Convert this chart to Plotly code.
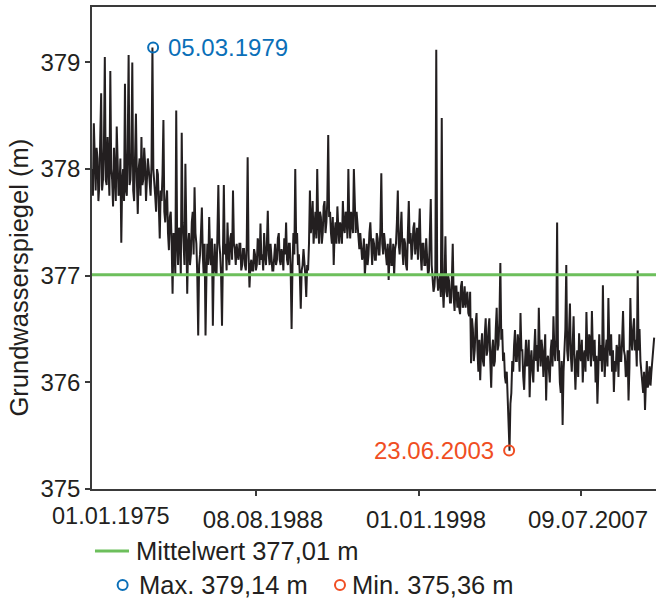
import numpy as np
import plotly.graph_objects as go
from datetime import date

# ---------------- data ----------------
start_year = 1975.0
samples_per_year = 16
level_m = [
    378.0, 377.75, 378.43, 377.9, 377.8, 378.2, 378.1, 377.7, 377.85, 378.3, 378.71, 377.8, 377.9, 378.2, 379.05, 377.9,      # 1975
    377.85, 378.3, 378.1, 377.75, 378.92, 378.0, 377.9, 377.65, 378.2, 378.0, 377.7, 378.4, 378.05, 377.75, 377.8, 378.1,     # 1976
    377.31, 377.9, 378.0, 377.7, 378.8, 377.8, 377.75, 378.2, 379.07, 377.85, 377.9, 378.15, 379.0, 377.8, 377.7, 378.1,      # 1977
    378.52, 377.9, 377.58, 378.0, 378.1, 377.75, 378.3, 377.85, 377.9, 378.2, 378.05, 377.7, 377.85, 378.1, 378.0, 377.8,     # 1978
    377.75, 378.05, 379.14, 378.0, 377.9, 377.75, 377.6, 378.0, 377.95, 377.7, 377.35, 377.8, 377.7, 377.95, 378.46, 377.6,   # 1979
    377.5, 377.7, 377.8, 377.4, 377.24, 377.55, 377.6, 377.3, 376.83, 377.4, 377.3, 377.0, 378.55, 377.3, 377.1, 377.45,      # 1980
    377.4, 377.0, 378.34, 377.5, 377.3, 377.1, 378.05, 377.4, 376.83, 377.3, 377.4, 377.1, 377.2, 377.5, 377.6, 377.2,        # 1981
    377.83, 377.4, 377.3, 377.0, 376.44, 377.1, 377.2, 377.4, 377.64, 377.2, 377.0, 377.3, 376.44, 377.0, 377.3, 377.1,       # 1982
    377.55, 377.2, 377.1, 377.35, 376.53, 377.1, 377.3, 377.05, 377.0, 377.4, 377.85, 377.3, 377.2, 377.0, 376.53, 377.2,     # 1983
    377.85, 377.2, 377.3, 377.05, 377.5, 377.2, 377.1, 377.35, 377.4, 377.15, 377.8, 377.3, 377.25, 377.1, 377.3, 377.2,      # 1984
    377.15, 377.3, 377.3, 377.05, 377.1, 377.25, 377.25, 377.1, 377.05, 377.3, 378.11, 377.2, 376.89, 377.1, 377.15, 377.05,  # 1985
    377.05, 377.25, 377.2, 377.05, 377.1, 377.35, 377.3, 377.1, 377.49, 377.15, 377.2, 377.05, 377.4, 377.2, 377.1, 377.3,    # 1986
    377.61, 377.2, 377.1, 377.3, 377.2, 377.05, 377.05, 377.2, 377.3, 377.1, 377.15, 377.35, 377.4, 377.15, 377.1, 377.25,    # 1987
    377.2, 377.05, 377.35, 377.2, 377.5, 377.15, 377.1, 377.3, 377.3, 377.05, 376.5, 377.1, 377.4, 377.2, 378.0, 377.3,       # 1988
    377.4, 377.1, 377.2, 377.0, 376.69, 377.05, 377.1, 377.25, 377.15, 377.0, 376.8, 377.1, 377.05, 377.3, 377.8, 377.4,      # 1989
    377.5, 377.7, 377.3, 377.5, 377.6, 377.35, 378.0, 377.5, 377.3, 377.6, 377.55, 377.3, 377.4, 377.65, 377.7, 377.4,        # 1990
    377.5, 377.7, 378.32, 377.55, 377.6, 377.4, 377.3, 377.55, 377.1, 377.4, 377.5, 377.3, 377.65, 377.45, 377.3, 377.5,      # 1991
    377.45, 377.3, 377.7, 377.45, 377.4, 377.6, 377.55, 377.35, 378.0, 377.5, 377.35, 377.6, 377.5, 377.4, 378.0, 377.5,     # 1992
    377.4, 377.6, 377.45, 377.3, 377.25, 377.4, 377.3, 377.15, 377.2, 377.35, 377.0, 377.2, 377.3, 377.1, 377.2, 377.4,       # 1993
    377.5, 377.3, 377.1, 377.35, 377.3, 377.15, 377.15, 377.4, 377.35, 377.2, 377.2, 377.45, 377.96, 377.3, 377.2, 377.4,     # 1994
    377.3, 377.15, 377.1, 377.3, 376.96, 377.2, 377.35, 377.1, 377.1, 377.3, 377.0, 377.25, 377.3, 377.5, 377.8, 377.3,       # 1995
    377.2, 377.4, 377.6, 377.25, 377.1, 377.35, 377.3, 377.1, 377.05, 377.4, 377.7, 377.3, 377.4, 377.15, 377.25, 377.45,     # 1996
    377.5, 377.2, 377.3, 377.45, 377.15, 377.35, 377.63, 377.2, 377.05, 377.3, 377.3, 377.1, 377.1, 377.35, 377.2, 377.0,     # 1997
    377.05, 377.3, 377.72, 377.1, 377.0, 376.85, 376.9, 377.05, 379.12, 377.0, 376.86, 376.95, 377.0, 376.8, 378.48, 376.9,   # 1998
    376.7, 376.95, 377.37, 376.85, 376.8, 377.0, 376.95, 376.75, 376.75, 376.95, 377.3, 376.8, 376.67, 376.9, 376.9, 376.7,   # 1999
    376.85, 376.7, 376.64, 376.9, 376.95, 376.7, 376.75, 376.9, 376.7, 376.8, 376.85, 376.65, 376.62, 376.85, 376.18, 376.6,  # 2000
    376.5, 376.2, 376.3, 376.55, 376.65, 376.3, 376.1, 376.4, 376.02, 376.3, 376.46, 376.2, 376.15, 376.45, 376.6, 376.25,    # 2001
    376.3, 376.5, 376.6, 376.2, 375.95, 376.3, 376.4, 376.15, 376.2, 376.5, 376.7, 376.3, 376.35, 376.6, 377.12, 376.4,       # 2002
    376.5, 376.2, 376.28, 376.05, 375.99, 376.1, 375.86, 375.7, 375.36, 375.8, 375.9, 376.2, 376.1, 376.35, 376.49, 376.2,    # 2003
    376.2, 376.45, 376.35, 376.1, 376.65, 376.3, 376.3, 376.05, 375.93, 376.2, 376.4, 376.15, 376.2, 376.4, 375.86, 376.2,    # 2004
    376.3, 376.1, 376.0, 376.3, 376.5, 376.2, 376.35, 376.1, 376.7, 376.3, 376.15, 376.4, 376.3, 376.05, 376.2, 376.45,       # 2005
    375.83, 376.2, 376.25, 376.05, 376.0, 376.3, 376.4, 376.15, 376.62, 376.3, 376.2, 376.4, 377.5, 376.2, 376.3, 376.0,      # 2006
    375.9, 376.2, 375.6, 376.1, 376.3, 376.5, 377.1, 376.3, 376.2, 376.45, 376.74, 376.25, 376.1, 376.35, 376.62, 376.2,      # 2007
    375.93, 376.2, 376.3, 376.05, 376.46, 376.25, 376.2, 376.4, 376.0, 376.25, 376.3, 376.1, 376.66, 376.3, 376.2, 376.45,    # 2008
    376.4, 376.15, 376.67, 376.3, 376.2, 376.4, 376.0, 376.25, 375.8, 376.1, 376.45, 376.2, 376.35, 376.1, 376.91, 376.3,     # 2009
    376.05, 376.3, 376.4, 376.15, 376.79, 376.35, 376.25, 376.45, 376.1, 376.3, 375.91, 376.2, 376.1, 376.35, 376.3, 376.05,  # 2010
    376.45, 376.2, 376.2, 376.4, 376.67, 376.3, 376.25, 376.05, 376.1, 376.3, 375.83, 376.15, 376.79, 376.4, 376.3, 376.5,    # 2011
    376.6, 376.3, 376.4, 376.15, 377.05, 376.3, 376.5, 376.2, 376.1, 375.95, 375.9, 376.1, 375.74, 376.0, 376.2, 375.95,      # 2012
    376.0, 376.15, 375.97, 376.1, 376.2, 376.35, 376.42,                                                                      # 2013
]

mean_level = 377.01
max_date, max_level = "05.03.1979", 379.14
min_date, min_level = "23.06.2003", 375.36

x_tick_labels = ["01.01.1975", "08.08.1988", "01.01.1998", "09.07.2007"]
x_tick_years = [1986.19, 1997.32, 2008.38]   # where the tick marks sit on the axis
y_ticks = [375, 376, 377, 378, 379]

x_range = [1975.0, 2013.5]
y_range = [375.0, 379.52]

# ---------------- helpers ----------------
def dec_year(s):
    d, m, y = map(int, s.split("."))
    return y + (date(y, m, d) - date(y, 1, 1)).days / 365.25

def de(v):
    return f"{v:.2f}".replace(".", ",")

t = start_year + np.arange(len(level_m)) / samples_per_year

TXT = "#231f20"
BLUE = "#0a6fb8"
ORANGE = "#f04e23"
GREEN = "#6dbf5c"
AX = "#3a3a3a"
FONT = "Liberation Sans, Arial, sans-serif"

fig = go.Figure()
fig.add_trace(go.Scatter(x=t, y=level_m, mode="lines",
                         line=dict(color=TXT, width=2.0), showlegend=False,
                         hoverinfo="skip"))
fig.add_trace(go.Scatter(x=x_range, y=[mean_level, mean_level], mode="lines",
                         line=dict(color=GREEN, width=3), showlegend=False))
fig.add_trace(go.Scatter(x=[dec_year(max_date)], y=[max_level], mode="markers",
                         marker=dict(symbol="circle-open", size=10, color=BLUE,
                                     line=dict(width=2, color=BLUE)),
                         showlegend=False))
fig.add_trace(go.Scatter(x=[dec_year(min_date)], y=[min_level], mode="markers",
                         marker=dict(symbol="circle-open", size=10, color=ORANGE,
                                     line=dict(width=2, color=ORANGE)),
                         showlegend=False))

ann = []
ann.append(dict(x=dec_year(max_date), y=max_level, xref="x", yref="y",
                text=max_date, showarrow=False, xanchor="left", yanchor="middle",
                xshift=13, font=dict(family=FONT, size=24, color=BLUE)))
ann.append(dict(x=dec_year(min_date), y=min_level, xref="x", yref="y",
                text=min_date, showarrow=False, xanchor="right", yanchor="middle",
                xshift=-13, font=dict(family=FONT, size=24, color=ORANGE)))
# first date label (offset from the axis origin, kept clear of the "375" label)
ann.append(dict(x=0.0345, y=0, xref="paper", yref="paper",
                text=x_tick_labels[0], showarrow=False, xanchor="center",
                yanchor="top", yshift=-13, borderpad=0,
                font=dict(family=FONT, size=23.5, color=TXT)))
# y title
ann.append(dict(x=-0.13, y=0.438, xref="paper", yref="paper",
                text="Grundwasserspiegel (m)", textangle=-90, showarrow=False,
                xanchor="center", yanchor="middle",
                font=dict(family=FONT, size=25.5, color=TXT)))
# legend texts
ann.append(dict(x=0.0745, y=-0.1286, xref="paper", yref="paper",
                text=f"Mittelwert {de(mean_level)} m", showarrow=False,
                xanchor="left", yanchor="middle",
                font=dict(family=FONT, size=25.5, color=TXT)))
ann.append(dict(x=0.079, y=-0.199, xref="paper", yref="paper",
                text=f"Max. {de(max_level)} m", showarrow=False,
                xanchor="left", yanchor="middle",
                font=dict(family=FONT, size=25.5, color=TXT)))
ann.append(dict(x=0.457, y=-0.199, xref="paper", yref="paper",
                text=f"Min. {de(min_level)} m", showarrow=False,
                xanchor="left", yanchor="middle",
                font=dict(family=FONT, size=25.5, color=TXT)))

shapes = [
    dict(type="line", xref="paper", yref="paper", x0=0.0053, x1=0.0656,
         y0=-0.1286, y1=-0.1286, line=dict(color=GREEN, width=3)),
    dict(type="circle", xref="paper", yref="paper", xsizemode="pixel",
         ysizemode="pixel", xanchor=0.0543, yanchor=-0.199,
         x0=-5, x1=5, y0=-5, y1=5, line=dict(color=BLUE, width=2)),
    dict(type="circle", xref="paper", yref="paper", xsizemode="pixel",
         ysizemode="pixel", xanchor=0.4397, yanchor=-0.199,
         x0=-5, x1=5, y0=-5, y1=5, line=dict(color=ORANGE, width=2)),
]

fig.update_layout(
    width=658, height=601,
    margin=dict(l=92, r=2, t=7, b=112),
    paper_bgcolor="white", plot_bgcolor="white",
    font=dict(family=FONT, color=TXT),
    annotations=ann, shapes=shapes, showlegend=False,
    xaxis=dict(range=x_range, showgrid=False, zeroline=False, showline=True,
               linecolor=AX, linewidth=1.5, mirror=True, ticks="outside",
               ticklen=5, tickwidth=1.5, tickcolor=AX,
               tickvals=x_tick_years, ticktext=x_tick_labels[1:],
               ticklabelshift=7, ticklabelstandoff=3,
               tickfont=dict(family=FONT, size=24, color=TXT)),
    yaxis=dict(range=y_range, showgrid=False, zeroline=False, showline=True,
               linecolor=AX, linewidth=1.5, ticks="outside", ticklen=5,
               tickwidth=1.5, tickcolor=AX, tickvals=y_ticks,
               tickfont=dict(family=FONT, size=24, color=TXT)),
)

fig.write_html("out.html")
